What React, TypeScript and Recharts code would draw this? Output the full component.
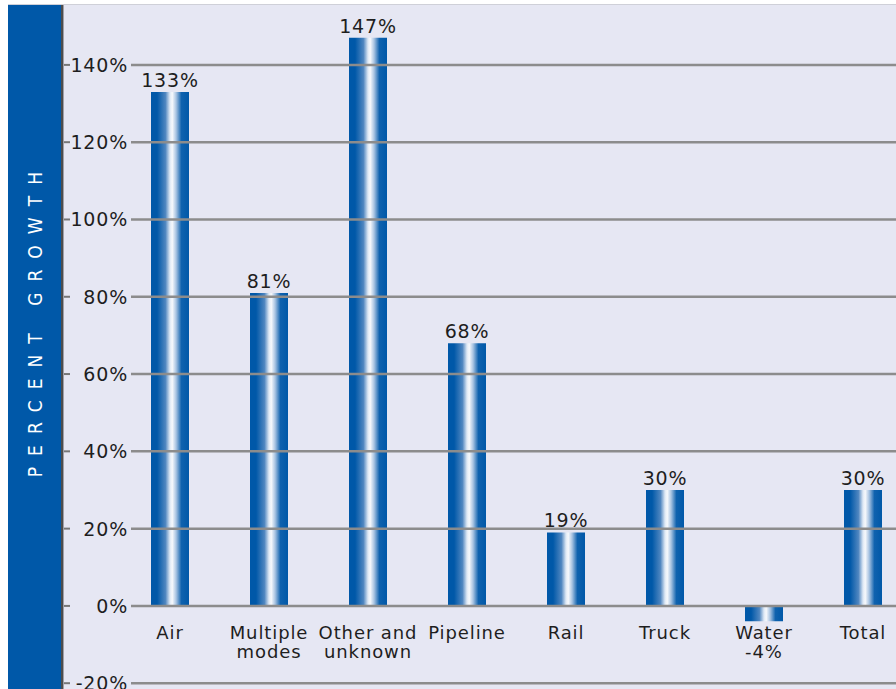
import { BarChart, Bar, XAxis, YAxis, LabelList } from 'recharts';

// percent growth by mode
const categories = ['Air', 'Multiple\nmodes', 'Other and\nunknown', 'Pipeline', 'Rail', 'Truck', 'Water', 'Total'];
const growth = [133, 81, 147, 68, 19, 30, -4, 30];
const yTicks = [-20, 0, 20, 40, 60, 80, 100, 120, 140];

const data = categories.map((name, i) => ({ name, value: growth[i] }));

const BLUE = '#0058a8';
const BG = '#e6e7f3';
const GRID = '#8c8c8c';
const FONT = "'DejaVu Sans', 'Liberation Sans', sans-serif";

const YTick = (props: any) => {
  const { y, payload } = props;
  return (
    <g>
      <line x1={64} x2={70} y1={y} y2={y} stroke="#777" strokeWidth={2} />
      <text x={128} y={y} dy={7} textAnchor="end" fontFamily={FONT} fontSize={19} letterSpacing={0.8} fill="#1e1e1e">
        {payload.value}%
      </text>
      <line x1={131} x2={912} y1={y} y2={y} stroke={GRID} strokeWidth={2.5} />
    </g>
  );
};

const CategoryLabel = (props: any) => {
  const { x, y, width, height, index } = props;
  const v = growth[index];
  const zero = v >= 0 ? y + height : Math.min(y, y + height);
  const lines = categories[index].split('\n');
  if (v < 0) lines.push(`${v}%`);
  return (
    <text x={x + width / 2} y={zero + 33} textAnchor="middle" fontFamily={FONT} fontSize={18} letterSpacing={0.9} fill="#1e1e1e">
      {lines.map((l, k) => (
        <tspan key={k} x={x + width / 2} dy={k === 0 ? 0 : 19}>
          {l}
        </tspan>
      ))}
    </text>
  );
};

export default function App() {
  return (
    <div style={{ position: 'fixed', left: 0, top: 0, width: 896, height: 689, overflow: 'hidden', background: '#fff' }}>
      <style>{'body{margin:0;overflow:hidden}'}</style>
      <div
        style={{
          position: 'absolute',
          left: 8,
          top: 4,
          width: 888,
          height: 685,
          background: BG,
          borderTop: '1px solid #cfd0d8',
          boxSizing: 'border-box',
        }}
      />
      <div style={{ position: 'absolute', left: 8, top: 5, width: 53, height: 684, background: BLUE }}>
        <div
          style={{
            position: 'absolute',
            left: 0,
            width: 53,
            top: 150,
            height: 328,
            display: 'flex',
            alignItems: 'center',
            justifyContent: 'center',
          }}
        >
          <span
            style={{
              writingMode: 'vertical-rl',
              transform: 'rotate(180deg)',
              color: '#fff',
              fontFamily: "'DejaVu Sans Condensed', 'Liberation Sans Narrow', sans-serif",
              fontSize: 19,
              letterSpacing: 11,
              whiteSpace: 'nowrap',
            }}
          >
            PERCENT GROWTH
          </span>
        </div>
      </div>
      <div style={{ position: 'absolute', left: 61, top: 5, width: 2, height: 684, background: '#4d4d4d' }} />
      <div style={{ position: 'absolute', left: 63, top: 5, width: 1, height: 684, background: '#a0a0a8' }} />
      <div style={{ position: 'absolute', left: 0, top: 0 }}>
        <BarChart width={912} height={689} data={data} margin={{ top: 5, right: 0, bottom: 0, left: 0 }}>
          <defs>
            <linearGradient id="barGrad" x1="0" y1="0" x2="1" y2="0">
              <stop offset="0%" stopColor={BLUE} />
              <stop offset="16%" stopColor={BLUE} />
              <stop offset="38%" stopColor="#4f86c0" />
              <stop offset="50%" stopColor="#dfe9f5" />
              <stop offset="56%" stopColor="#f7f9fc" />
              <stop offset="66%" stopColor="#a9c4e2" />
              <stop offset="80%" stopColor="#0f62ae" />
              <stop offset="100%" stopColor={BLUE} />
            </linearGradient>
          </defs>
          <XAxis dataKey="name" hide />
          <YAxis
            width={120}
            domain={[-21.5, 155.5]}
            ticks={yTicks}
            interval={0}
            axisLine={false}
            tickLine={false}
            tick={<YTick />}
            allowDataOverflow
          />
          <Bar dataKey="value" fill="url(#barGrad)" barSize={38} isAnimationActive={false}>
            <LabelList
              dataKey="value"
              position="top"
              offset={5}
              formatter={(v: any) => (v >= 0 ? `${v}%` : '')}
              style={{ fontFamily: FONT, fontSize: 19, letterSpacing: 0.8, fill: '#1e1e1e' }}
            />
            <LabelList dataKey="name" content={<CategoryLabel />} />
          </Bar>
        </BarChart>
      </div>
    </div>
  );
}
